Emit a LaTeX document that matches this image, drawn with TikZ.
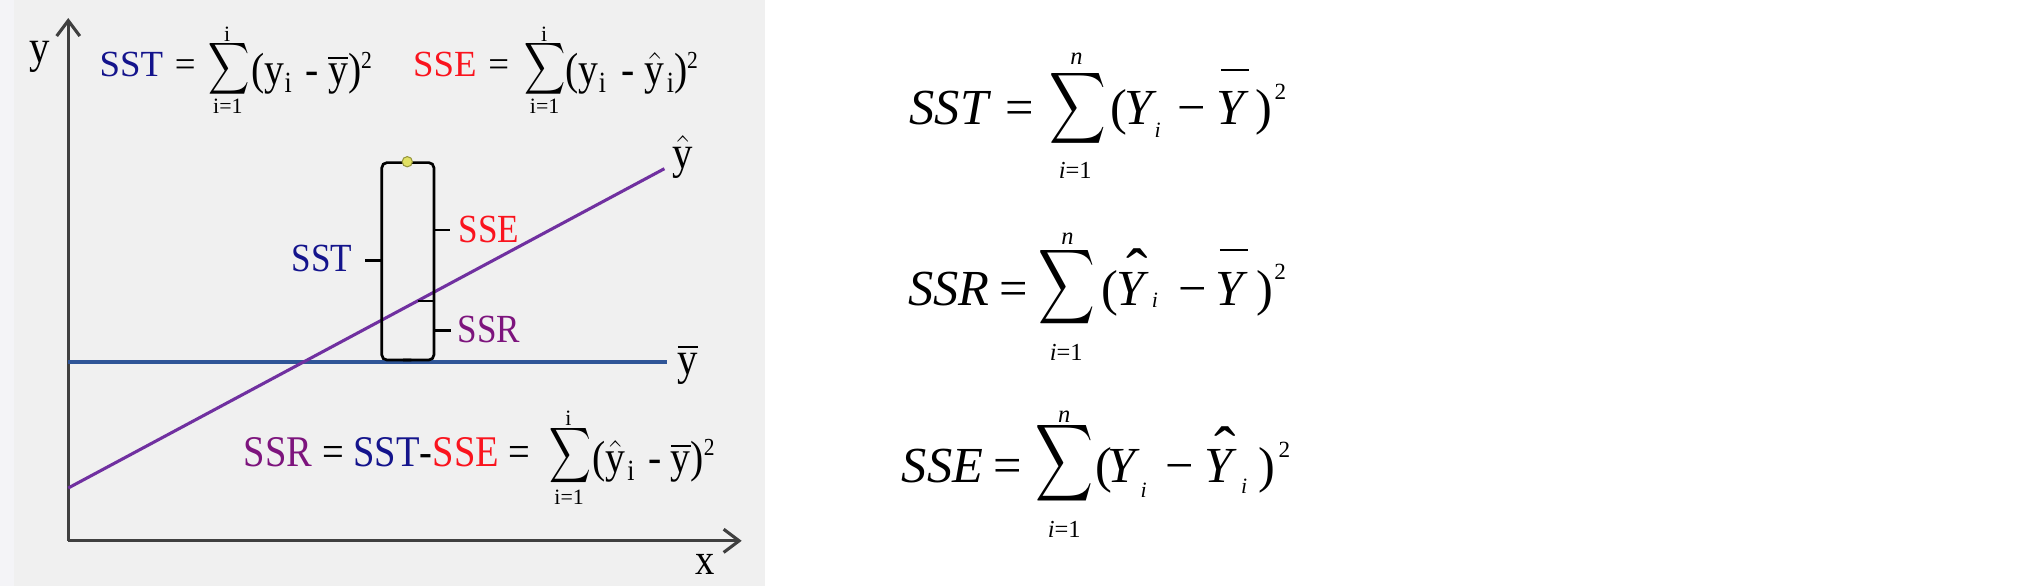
\documentclass[tikz,border=0pt]{standalone}
\usepackage{amsmath}
\usepackage{graphicx}
\usepackage{fontspec}
\setmainfont{Liberation Serif}
\newfontfamily\lf[FakeStretch=0.88]{Liberation Serif}
\usetikzlibrary{arrows.meta}
\definecolor{sstc}{RGB}{20,20,140}
\definecolor{ssec}{RGB}{250,20,30}
\definecolor{ssrc}{RGB}{125,20,125}
\definecolor{ybarc}{RGB}{47,85,151}
\definecolor{yhatc}{RGB}{112,48,160}
\definecolor{axisc}{RGB}{64,64,64}
\definecolor{panel}{RGB}{240,240,240}
\definecolor{strip}{RGB}{244,244,247}
\definecolor{dotf}{RGB}{225,225,100}
\definecolor{dotd}{RGB}{150,150,60}
% big summation sign: #1 width, #2 total height
\newcommand\bigsum[2]{\resizebox*{#1}{#2}{$\displaystyle\sum$}}
% left panel helpers
\newcommand\lsub{\raisebox{-3pt}{\fontsize{11.4}{12}\selectfont i}}
\newcommand\lsup{\raisebox{6.5pt}{\fontsize{9.5}{9.5}\selectfont 2}}
% right formula helpers
\newcommand\rbar{\rlap{\kern1.8pt\raisebox{21pt}{\rule{11pt}{0.8pt}}}}
\newcommand\rhat{\rlap{\kern4pt\raisebox{4.6pt}{\fontsize{25}{25}\selectfont ˆ}}}
\newcommand\rsub[1]{\raisebox{#1}{\fontsize{8.5}{9}\selectfont\itshape i}}
\newcommand\rsup{\raisebox{9.8pt}{\fontsize{9}{9}\selectfont 2}}
\tikzset{
  lbl/.style={inner sep=0pt, font=\lf\fontsize{15.5}{18}\selectfont},
  lhs/.style={inner sep=0pt, anchor=base west, font=\fontsize{14.3}{16}\selectfont},
  lrest/.style={inner sep=0pt, anchor=base west, font=\lf\fontsize{17.5}{19}\selectfont},
  llim/.style={inner sep=0pt, font=\fontsize{8.5}{9}\selectfont},
  rfm/.style={inner sep=0pt, anchor=base west, font=\fontsize{19.6}{24}\selectfont},
  rlim/.style={inner sep=0pt, font=\fontsize{9.5}{10}\selectfont},
  sumn/.style={inner sep=0pt},
  axis/.style={draw=axisc, line width=1.2pt, -{Straight Barb[length=6pt,width=9pt]}},
  brk/.style={draw=black, line width=1.05pt, rounded corners=2pt},
  tick/.style={draw=black, line width=1.05pt},
}
\begin{document}
\begin{tikzpicture}[x=0.5pt,y=-0.5pt]
\useasboundingbox (0,0) rectangle (1568,455);
\fill[white] (0,0) rectangle (1568,455);
\fill[panel] (0,0) rectangle (594,455);
\fill[strip] (0,0) rectangle (11,455);

% axes
\coordinate (o) at (53,420);
\coordinate (ytop) at (53,14);
\coordinate (xend) at (576,420);
\draw[axis] (o) -- (ytop);
\draw[axis] (o) -- (xend);
\node[lbl, font=\lf\fontsize{18}{20}\selectfont] (ylab) at (31,44) {y};
\node[lbl, font=\lf\fontsize{17}{20}\selectfont] (xlab) at (548,438) {x};

% mean line and regression line
\coordinate (mb0) at (53,281);
\coordinate (mb1) at (518,281);
\draw[ybarc, line width=1.3pt] (mb0) -- (mb1);
\node[lbl, font=\lf\fontsize{18}{20}\selectfont, anchor=west] (ybarlab) at (526,283) {$\overline{\text{y}}$};
\coordinate (rl0) at (53,379);
\coordinate (rl1) at (516,131);
\draw[yhatc, line width=1.2pt] (rl0) -- (rl1);
\node[lbl, font=\lf\fontsize{18}{20}\selectfont, anchor=west] (yhatlab) at (522,122) {$\hat{\text{y}}$};

% brackets
\coordinate (bl0) at (296.5,126.3);
\coordinate (bl1) at (296.5,279.6);
\coordinate (br0) at (337,126.3);
\coordinate (br1) at (337,279.6);
\draw[brk] ([xshift=11.5]bl0) -- (bl0) -- (bl1) -- ([xshift=11.5]bl1);
\draw[brk] ([xshift=-12]br0) -- (br0) -- (br1) -- ([xshift=-12]br1);
\draw[tick] (296.5,202.5) -- (283.5,202.5);
\draw[tick] (337,233.8) -- (325,233.8);
\draw[tick] (337,178.6) -- (349.5,178.6);
\draw[tick] (337,256.8) -- (350,256.8);
\filldraw[fill=dotf, draw=dotd, line width=0.4pt] (316.3,125.6) circle (4);

\node[lbl, sstc, anchor=east] (sstlab) at (274,201) {SST};
\node[lbl, ssec, anchor=west] (sselab) at (356,178.6) {SSE};
\node[lbl, ssrc, anchor=west] (ssrlab) at (355,255.7) {SSR};

% formula SST (panel)
\node[lhs] (l1) at (77,59.5) {\textcolor{sstc}{SST} \kern1pt=};
\node[sumn] (s1) at (178.2,53.7) {\bigsum{16pt}{22.5pt}};
\node[llim] (s1t) at (176.5,26.5) {i};
\node[llim] (s1b) at (177,82.5) {i=1};
\node[lrest] (r1) at (195,66) {(y\lsub\hspace{5.5pt}-\hspace{3.5pt}$\overline{\text{y}}$)\lsup};

% formula SSE (panel)
\node[lhs] (l2) at (320.5,59.5) {\textcolor{ssec}{SSE} \kern1pt=};
\node[sumn] (s2) at (423,53.7) {\bigsum{16pt}{22.5pt}};
\node[llim] (s2t) at (422.6,26.5) {i};
\node[llim] (s2b) at (423,82.5) {i=1};
\node[lrest] (r2) at (439,66) {(y\lsub\hspace{6pt}-\hspace{4pt}$\hat{\text{y}}$\kern0.8pt\lsub)\lsup};

% formula SSR (panel)
\node[lrest, font=\lf\fontsize{17}{19}\selectfont] (l3) at (189,362.4) {\textcolor{ssrc}{SSR} = \textcolor{sstc}{SST}-\textcolor{ssec}{SSE} =};
\node[sumn] (s3) at (443,354) {\bigsum{16.2pt}{24pt}};
\node[llim] (s3t) at (441.5,325) {i};
\node[llim] (s3b) at (442,386) {i=1};
\node[lrest] (r3) at (459.5,367) {($\hat{\text{y}}$\kern0.8pt\lsub\hspace{5.5pt}-\hspace{3.5pt}$\overline{\text{y}}$)\lsup};

% formulas on the right
\node[rfm] (q1l) at (706,97) {\itshape SST};
\node[rfm] (q1e) at (780.5,97) {=};
\node[sumn] (q1s) at (837,84) {\bigsum{22pt}{31pt}};
\node[rlim] (q1t) at (836,45.5) {\itshape n};
\node[rlim] (q1b) at (835,132) {\itshape i\upshape=1};
\node[rfm] (q1r) at (862,97) {(\kern-1.2pt\textit{Y}\kern-0.8pt\rsub{-5pt}\kern6.5pt−\kern4pt\rbar\textit{Y}\kern2.5pt)\kern1pt\rsup};

\node[rfm] (q2l) at (705,237) {\itshape SSR};
\node[rfm] (q2e) at (775.5,237) {=};
\node[sumn] (q2s) at (828.5,223) {\bigsum{22pt}{32.5pt}};
\node[rlim] (q2t) at (829,185.5) {\itshape n};
\node[rlim] (q2b) at (828,273.5) {\itshape i\upshape=1};
\node[rfm] (q2r) at (855,237) {(\kern-0.8pt\rhat\textit{Y}\kern1.2pt\rsub{-1pt}\kern8pt−\kern3.2pt\rbar\textit{Y}\kern3.3pt)\kern0.5pt\rsup};

\node[rfm] (q3l) at (700,375) {\itshape SSE};
\node[rfm] (q3e) at (771.5,375) {=};
\node[sumn] (q3s) at (827,359.5) {\bigsum{22.5pt}{33.5pt}};
\node[rlim] (q3t) at (826.5,324) {\itshape n};
\node[rlim] (q3b) at (826.5,411) {\itshape i\upshape=1};
\node[rfm] (q3r) at (850,375) {(\kern-1.5pt\textit{Y}\kern0pt\rsub{-5.5pt}\kern7.5pt−\kern4pt\rhat\textit{Y}\kern1.5pt\rsub{-4pt}\kern4.5pt)\kern1.2pt\rsup};
\end{tikzpicture}
\end{document}
